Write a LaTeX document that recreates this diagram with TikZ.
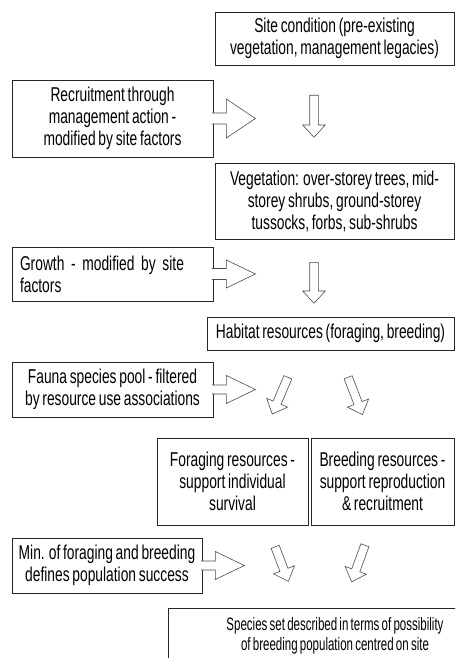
\documentclass[tikz,border=0pt]{standalone}
\usepackage{fontspec}
\newfontfamily\boxfont[FakeStretch=0.69,WordSpace=0.72]{Liberation Sans}
\newfontfamily\smallboxfont[FakeStretch=0.64,WordSpace=0.7]{Liberation Sans}
\usetikzlibrary{shapes.arrows}
\tikzset{
box/.style={draw=black!85,line width=0.7pt,inner xsep=3pt,inner ysep=2pt,align=center,font=\boxfont\fontsize{20}{22}\selectfont},
blockarrow/.style={draw=black!70,fill=white,line width=0.6pt,line join=miter},
dropper/.style={blockarrow,single arrow,single arrow head extend=7pt,single arrow tip angle=85,inner sep=4pt,minimum height=41pt,anchor=tail},
pics/sidearrow/.style 2 args={code={\filldraw[blockarrow] (-1.5,-#1) -- (13,-#1) -- (13,-#2) -- (42,0) -- (13,#2) -- (13,#1) -- (-1.5,#1);}}}

\begin{document}
\begin{tikzpicture}[x=1pt,y=-1pt]
\clip (0,0) rectangle (455,658);

% boxes of the chain
\node[box,minimum width=239pt,minimum height=53pt] (site) at (334.5,38.5) {Site condition (pre-existing\\vegetation, management legacies)};
\node[box,minimum width=201pt,minimum height=77pt] (recruit) at (112.5,118.5) {Recruitment through\\management action -\\modified by site factors};
\node[box,minimum width=239pt,minimum height=76pt] (veg) at (334.5,201.5) {Vegetation: over-storey trees, mid-\\storey shrubs, ground-storey\\tussocks, forbs, sub-shrubs};
\node[box,align=left,text width=185pt,inner xsep=8pt,minimum height=54pt] (growth) at (112.5,274) {Growth - modified by site\\factors};
\node[box,minimum width=247pt,minimum height=33pt] (habitat) at (330.5,333.5) {Habitat resources (foraging, breeding)};
\node[box,minimum width=201pt,minimum height=55pt] (fauna) at (112.5,389.5) {Fauna species pool - filtered\\by resource use associations};
\node[box,minimum width=151pt,minimum height=87pt] (forage) at (232.5,481.5) {Foraging resources -\\support individual\\survival};
\node[box,minimum width=143pt,minimum height=87pt] (breed) at (382.5,481.5) {Breeding resources -\\support reproduction\\\& recruitment};
\node[box,minimum width=190pt,minimum height=55pt] (minfb) at (107,565.5) {Min. of foraging and breeding\\defines population success};
\node[box,minimum width=334pt,minimum height=56pt,font=\smallboxfont\fontsize{18}{20}\selectfont] (species) at (335,636) {Species set described in terms of possibility\\of breeding population centred on site};

% side inputs
\pic at (recruit.east) {sidearrow={5.5}{19.5}};
\pic at (growth.east) {sidearrow={5.5}{14}};
\pic at (fauna.east) {sidearrow={4.5}{14}};
\pic at (minfb.east) {sidearrow={4.5}{14}};

% flow arrows
\node[dropper,rotate=-90,minimum height=42pt] (d1) at (314,95) {};
\node[dropper,rotate=-90] (d2) at (314,262) {};
\node[dropper,rotate=-113,minimum height=40pt] (fd1) at (288,377) {};
\node[dropper,rotate=-69,minimum height=40pt] (fd2) at (348,377) {};
\node[dropper,rotate=-69,minimum height=37pt] (md1) at (275,546.5) {};
\node[dropper,rotate=-110,minimum height=39pt] (md2) at (365,545) {};

\end{tikzpicture}
\end{document}
